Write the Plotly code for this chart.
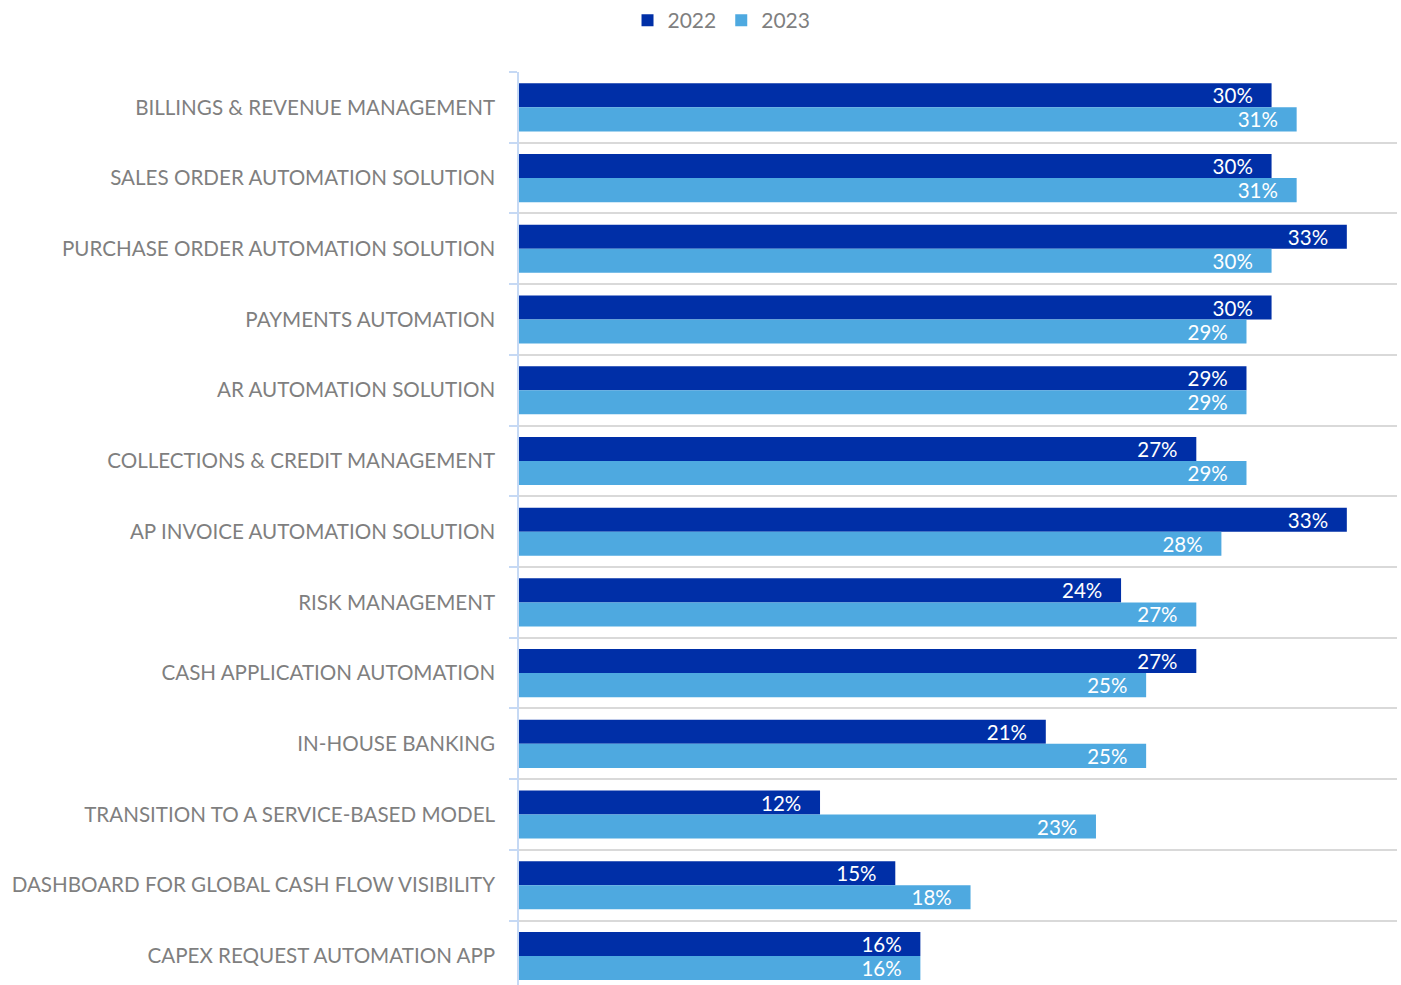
import plotly.graph_objects as go

categories = [
    "BILLINGS & REVENUE MANAGEMENT",
    "SALES ORDER AUTOMATION SOLUTION",
    "PURCHASE ORDER AUTOMATION SOLUTION",
    "PAYMENTS AUTOMATION",
    "AR AUTOMATION SOLUTION",
    "COLLECTIONS & CREDIT MANAGEMENT",
    "AP INVOICE AUTOMATION SOLUTION",
    "RISK MANAGEMENT",
    "CASH APPLICATION AUTOMATION",
    "IN-HOUSE BANKING",
    "TRANSITION TO A SERVICE-BASED MODEL",
    "DASHBOARD FOR GLOBAL CASH FLOW VISIBILITY",
    "CAPEX REQUEST AUTOMATION APP",
]
values_2022 = [30, 30, 33, 30, 29, 27, 33, 24, 27, 21, 12, 15, 16]
values_2023 = [31, 31, 30, 29, 29, 29, 28, 27, 25, 25, 23, 18, 16]

DARK = "#002FA7"
LIGHT = "#4EA9E0"
GRAY = "#7F7F7F"
FONT = "Lato"

fig = go.Figure()
for name, vals, color in [("2022", values_2022, DARK), ("2023", values_2023, LIGHT)]:
    fig.add_trace(go.Bar(
        name=name,
        y=categories,
        x=vals,
        orientation="h",
        marker=dict(color=color, line=dict(width=0)),
        texttemplate="%{x}%\u00a0\u00a0\u00a0",
        textposition="inside",
        insidetextanchor="end",
        constraintext="none",
        textfont=dict(family=FONT, size=20.5, color="white"),
        hoverinfo="skip",
    ))

fig.update_layout(
    width=1401,
    height=985,
    margin=dict(l=519, r=4, t=72, b=0),
    paper_bgcolor="white",
    plot_bgcolor="white",
    barmode="group",
    bargap=0.32,
    bargroupgap=0,
    font=dict(family=FONT, color=GRAY),
    legend=dict(
        orientation="h",
        xref="container", yref="container",
        x=0.515, xanchor="center",
        y=1.0, yanchor="top",
        font=dict(family=FONT, size=21, color=GRAY),
        itemwidth=30,
        traceorder="normal",
    ),
    showlegend=True,
)

fig.update_xaxes(
    range=[0, 35],
    showticklabels=False,
    showgrid=False,
    zeroline=False,
    showline=False,
    ticks="",
)

fig.update_yaxes(
    type="category",
    range=[12.41, -0.5],
    tickson="boundaries",
    showgrid=True,
    gridcolor="#D9D9D9",
    gridwidth=1.5,
    showline=True,
    linecolor="#C6D9F4",
    linewidth=1.5,
    ticks="outside",
    ticklen=8,
    tickcolor="#C6D9F4",
    tickwidth=1.5,
    ticklabelstandoff=18,
    tickfont=dict(family=FONT, size=20.6, color=GRAY),
)

fig.write_html("out.html")
